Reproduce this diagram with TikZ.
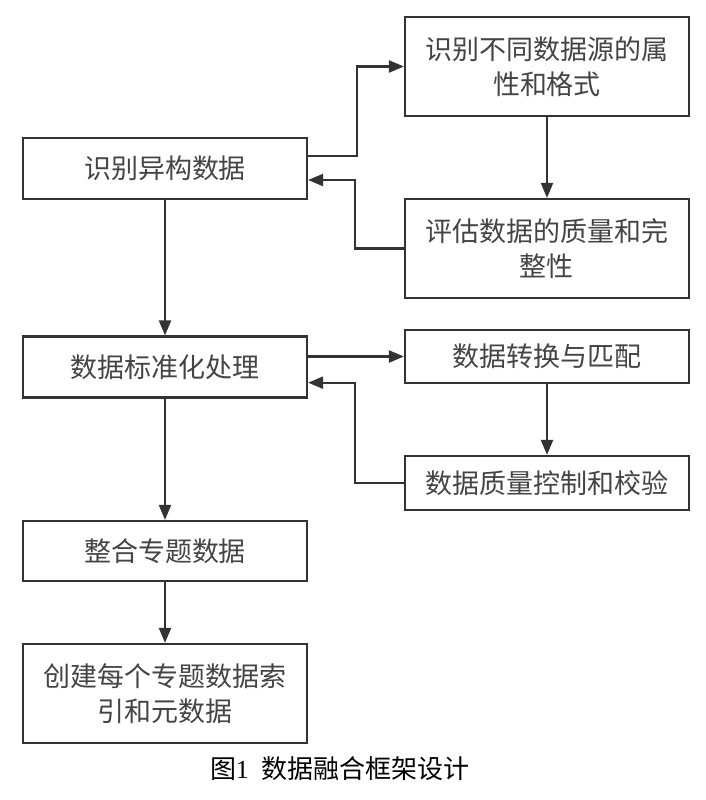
\documentclass[tikz,border=0pt]{standalone}
\usepackage{fontspec}
\setmainfont{Liberation Serif}
\newfontfamily\cjk{Noto Sans CJK SC}
\usetikzlibrary{arrows.meta,calc}
\definecolor{linec}{HTML}{333333}
\definecolor{textc}{HTML}{444444}
\tikzset{
  box/.style={draw=linec, line width=1.1pt, fill=white, minimum width=142pt,
    inner sep=0pt, align=center, text=textc,
    font=\cjk\fontsize{13.5pt}{17.5pt}\selectfont},
  arr/.style={draw=linec, line width=1.1pt,
    -{Triangle[length=7.5pt,width=6pt]}},
  conn/.style={draw=linec, line width=1.1pt}
}
\begin{document}
\begin{tikzpicture}[x=0.5pt,y=-0.5pt]
\useasboundingbox (0,0) rectangle (706,800);
% left column
\node[box, minimum height=30.5pt] (b1) at (165,168.5) {识别异构数据};
\node[box, minimum height=30.5pt] (b2) at (165,367) {数据标准化处理};
\node[box, minimum height=30pt] (b3) at (165,551) {整合专题数据};
\node[box, minimum height=49.3pt] (b4) at (165,693.3) {创建每个专题数据索\\引和元数据};
% right column
\node[box, minimum height=49.2pt] (r1) at (547,66.5) {识别不同数据源的属\\性和格式};
\node[box, minimum height=49.5pt] (r2) at (547,248.5) {评估数据的质量和完\\整性};
\node[box, minimum height=26.5pt] (r3) at (547,356.5) {数据转换与匹配};
\node[box, minimum height=27pt] (r4) at (547,483) {数据质量控制和校验};
% caption
\node[font=\fontsize{13pt}{15pt}\selectfont, inner sep=0pt] (cap) at (340,769)
  {{\cjk 图}1\hspace{0.5em}{\cjk 数据融合框架设计}};
% connectors
\draw[arr] ([yshift=6.25pt]b1.east) -- ++(49,0) |- (r1.west);
\draw[arr] (r1.south) -- (r2.north);
\draw[arr] (r2.west) -- ++(-49,0) |- ([yshift=-5.75pt]b1.east);
\draw[arr] (b1.south) -- (b2.north);
\draw[arr] (b2.east |- r3.west) -- (r3.west);
\draw[arr] (r3.south) -- (r4.north);
\draw[arr] (r4.west) -- ++(-49,0) |- ([yshift=-7.85pt]b2.east);
\draw[arr] (b2.south) -- (b3.north);
\draw[arr] (b3.south) -- (b4.north);
\end{tikzpicture}
\end{document}
